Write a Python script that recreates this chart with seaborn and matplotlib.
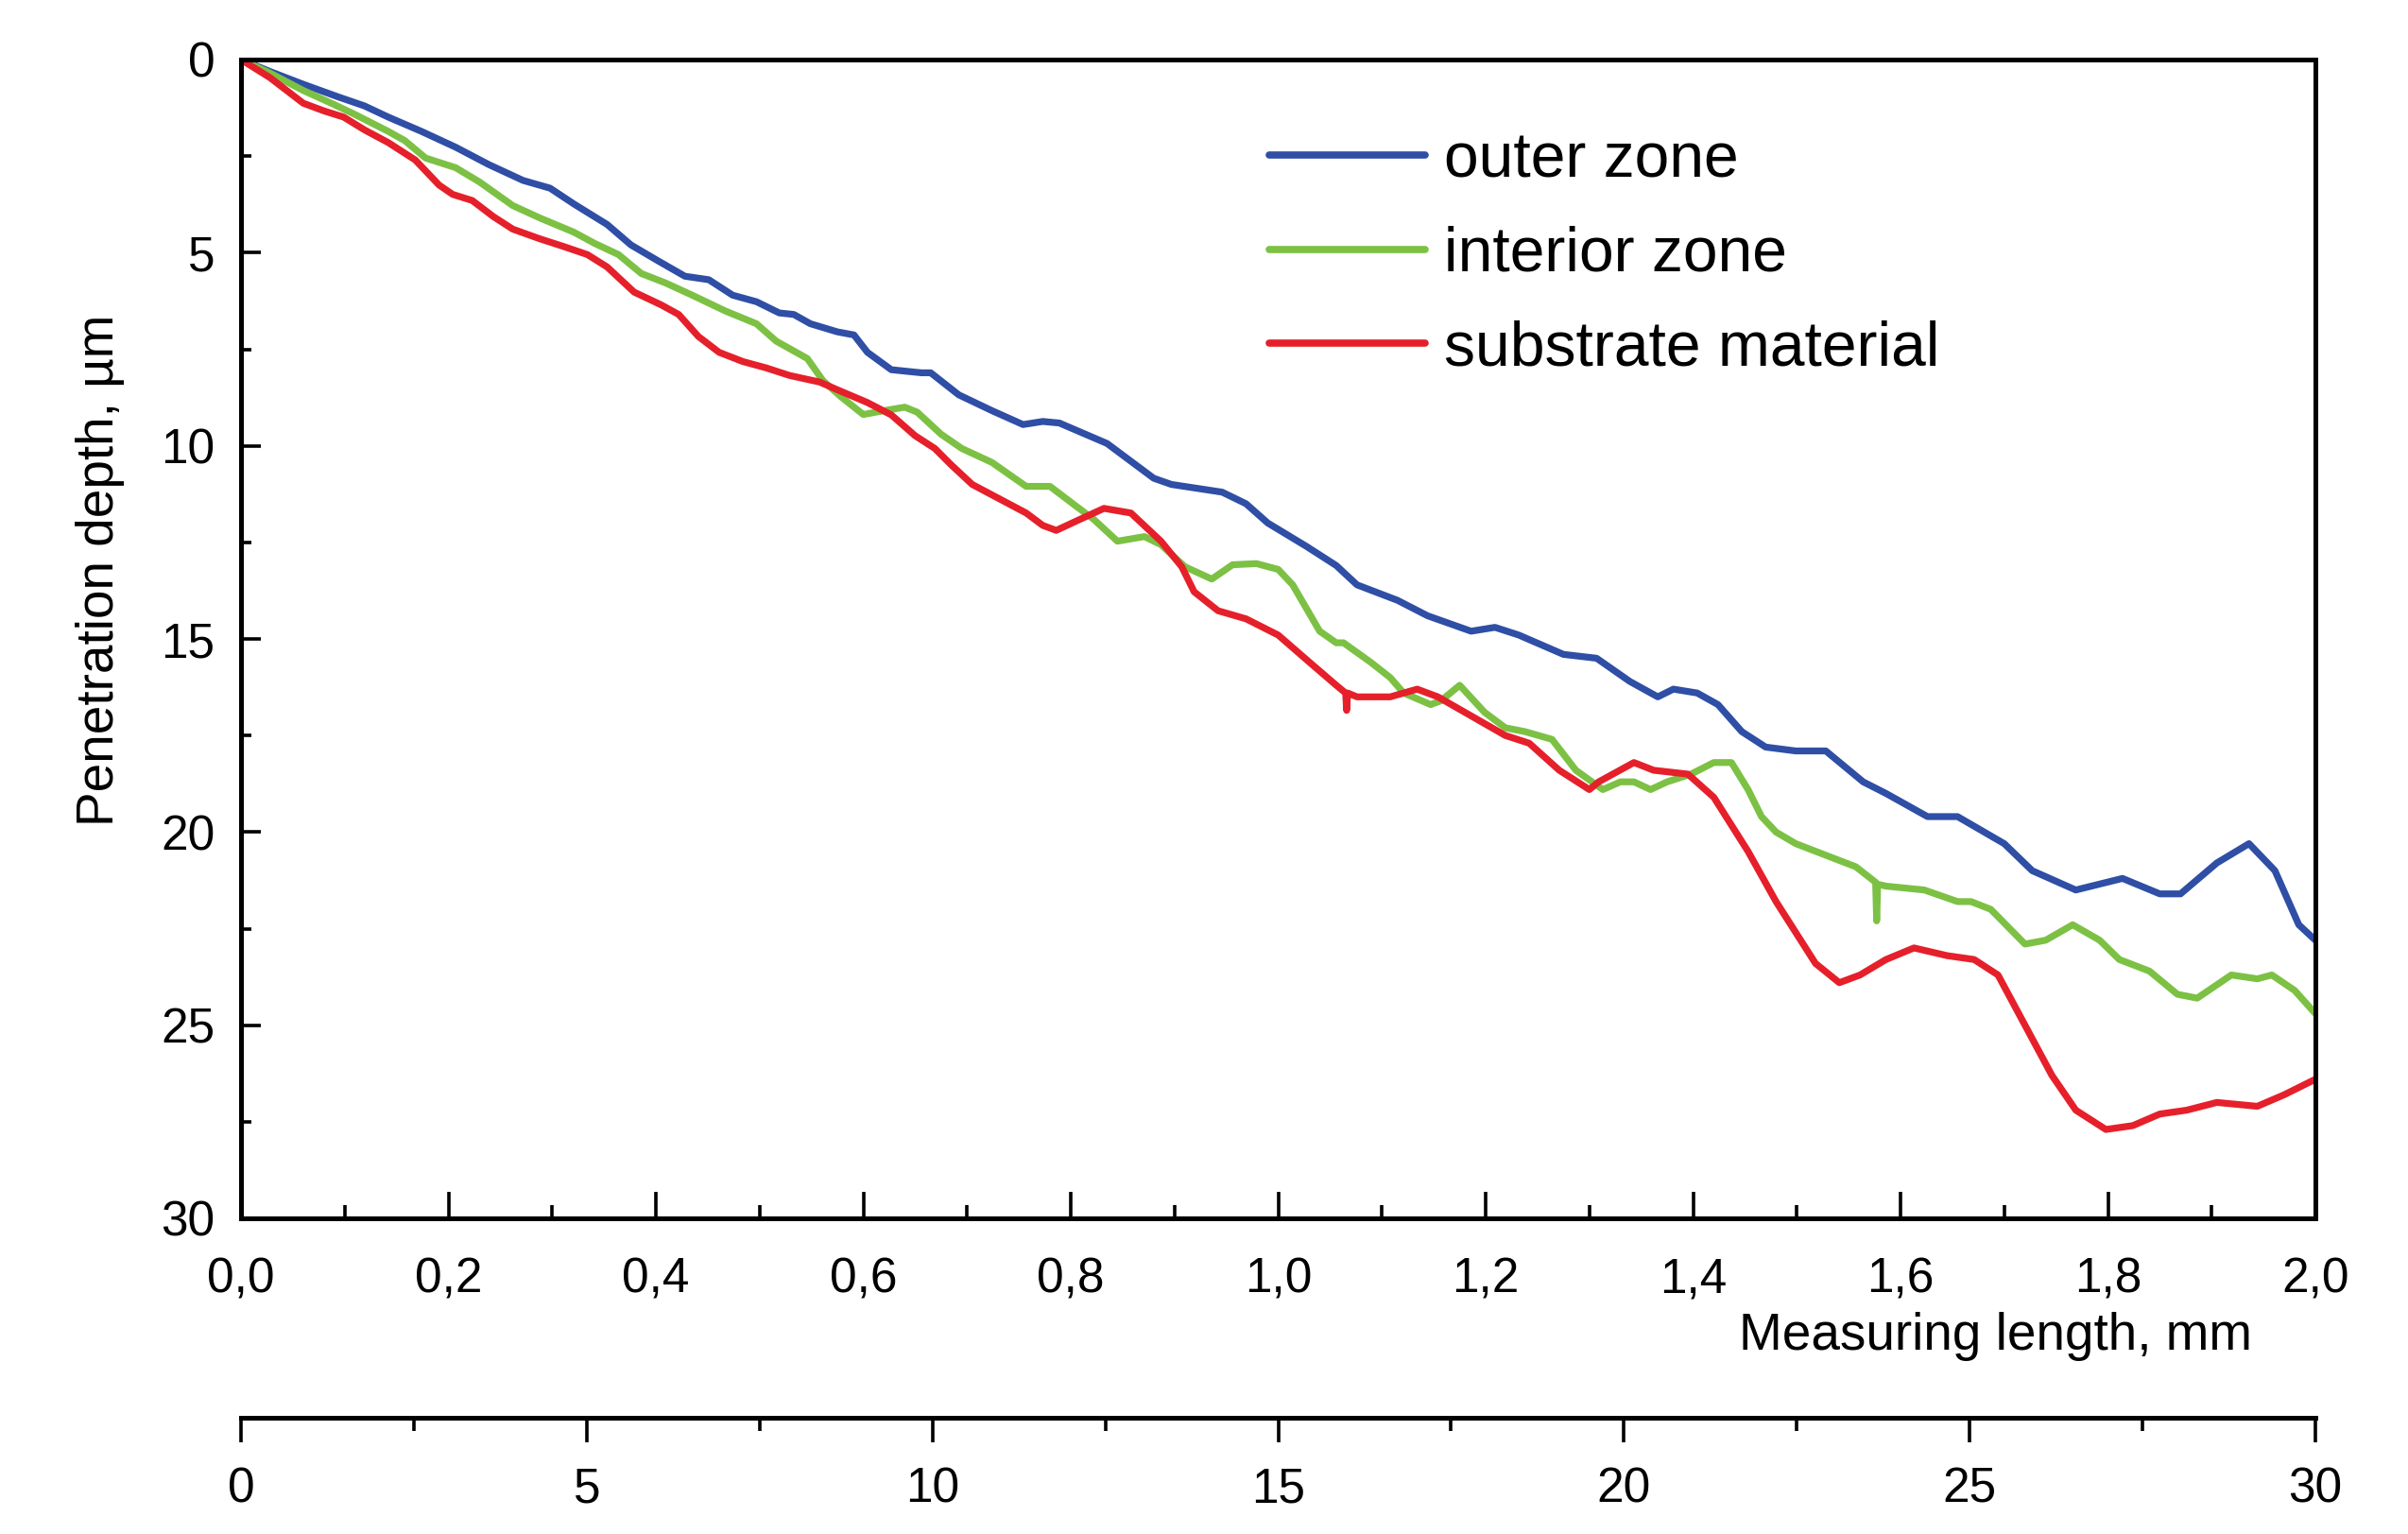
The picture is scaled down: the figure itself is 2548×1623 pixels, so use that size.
import numpy as np
import pandas as pd
import matplotlib
matplotlib.use("Agg")
import matplotlib.pyplot as plt
import seaborn as sns
from matplotlib.ticker import MultipleLocator, FuncFormatter

# ---------------- data ----------------
outer_x = [0.0, 0.028, 0.060, 0.093, 0.119, 0.142, 0.174, 0.207, 0.239, 0.272, 0.298, 0.321,
           0.353, 0.376, 0.402, 0.428, 0.451, 0.474, 0.497, 0.519, 0.533, 0.549, 0.575, 0.591,
           0.604, 0.627, 0.656, 0.665, 0.692, 0.724, 0.754, 0.773, 0.789, 0.835, 0.880, 0.897,
           0.946, 0.969, 0.990, 1.027, 1.056, 1.076, 1.115, 1.144, 1.186, 1.209, 1.232, 1.275,
           1.307, 1.339, 1.366, 1.381, 1.404, 1.424, 1.447, 1.470, 1.499, 1.528, 1.564, 1.586,
           1.626, 1.655, 1.700, 1.727, 1.769, 1.814, 1.850, 1.870, 1.905, 1.936, 1.961, 1.984, 2.0]
outer_y = [0.0, 0.31, 0.64, 0.96, 1.20, 1.49, 1.86, 2.27, 2.72, 3.13, 3.33, 3.74,
           4.27, 4.80, 5.21, 5.61, 5.70, 6.10, 6.27, 6.56, 6.60, 6.84, 7.05, 7.13,
           7.58, 8.03, 8.11, 8.11, 8.68, 9.09, 9.45, 9.37, 9.41, 9.94, 10.84, 11.00,
           11.20, 11.50, 12.00, 12.60, 13.10, 13.60, 14.00, 14.40, 14.80, 14.70, 14.90, 15.40,
           15.50, 16.10, 16.50, 16.30, 16.40, 16.70, 17.40, 17.80, 17.90, 17.90, 18.70, 19.00,
           19.60, 19.60, 20.30, 21.00, 21.50, 21.20, 21.60, 21.60, 20.80, 20.30, 21.00, 22.40, 22.80]

interior_x = [0.0, 0.028, 0.060, 0.087, 0.109, 0.142, 0.158, 0.178, 0.207, 0.230, 0.262, 0.288,
              0.321, 0.341, 0.364, 0.386, 0.409, 0.435, 0.467, 0.497, 0.516, 0.546, 0.561, 0.578,
              0.600, 0.620, 0.640, 0.652, 0.675, 0.695, 0.724, 0.757, 0.780, 0.806, 0.822, 0.845,
              0.871, 0.887, 0.910, 0.936, 0.956, 0.979, 1.000, 1.014, 1.040, 1.056, 1.063, 1.089,
              1.108, 1.121, 1.147, 1.157, 1.175, 1.199, 1.219, 1.238, 1.264, 1.287, 1.313, 1.330,
              1.343, 1.359, 1.375, 1.398, 1.420, 1.437, 1.453, 1.466, 1.480, 1.499, 1.557, 1.576,
              1.577, 1.578, 1.586, 1.623, 1.655, 1.668, 1.687, 1.720, 1.740, 1.766, 1.792, 1.811,
              1.840, 1.867, 1.886, 1.919, 1.944, 1.958, 1.980, 2.0]
interior_y = [0.0, 0.35, 0.80, 1.13, 1.41, 1.86, 2.10, 2.55, 2.80, 3.17, 3.78, 4.10,
              4.47, 4.76, 5.05, 5.54, 5.78, 6.10, 6.51, 6.84, 7.29, 7.74, 8.31, 8.72,
              9.19, 9.09, 9.00, 9.13, 9.70, 10.07, 10.43, 11.05, 11.05, 11.58, 11.90, 12.47,
              12.35, 12.56, 13.13, 13.45, 13.08, 13.05, 13.20, 13.60, 14.80, 15.10, 15.10, 15.60,
              16.00, 16.40, 16.70, 16.60, 16.20, 16.90, 17.30, 17.40, 17.60, 18.40, 18.90, 18.70,
              18.70, 18.90, 18.70, 18.50, 18.20, 18.20, 18.90, 19.60, 20.00, 20.30, 20.90, 21.30,
              22.30, 21.35, 21.40, 21.50, 21.80, 21.80, 22.00, 22.90, 22.80, 22.40, 22.80, 23.30,
              23.60, 24.20, 24.30, 23.70, 23.80, 23.70, 24.10, 24.70]

substrate_x = [0.0, 0.028, 0.060, 0.080, 0.099, 0.119, 0.142, 0.168, 0.191, 0.204, 0.223, 0.243,
               0.262, 0.288, 0.311, 0.334, 0.353, 0.379, 0.405, 0.422, 0.441, 0.461, 0.484, 0.506,
               0.529, 0.558, 0.575, 0.604, 0.627, 0.650, 0.669, 0.685, 0.705, 0.731, 0.757, 0.773,
               0.786, 0.806, 0.832, 0.858, 0.887, 0.907, 0.919, 0.942, 0.969, 1.000, 1.030, 1.056,
               1.065, 1.066, 1.067, 1.076, 1.108, 1.134, 1.154, 1.180, 1.219, 1.242, 1.271, 1.300,
               1.309, 1.343, 1.362, 1.395, 1.420, 1.453, 1.480, 1.499, 1.518, 1.541, 1.561, 1.586,
               1.613, 1.645, 1.671, 1.694, 1.720, 1.746, 1.769, 1.798, 1.824, 1.850, 1.876, 1.905,
               1.944, 1.970, 2.0]
substrate_y = [0.0, 0.47, 1.13, 1.33, 1.49, 1.82, 2.15, 2.60, 3.25, 3.49, 3.65, 4.06,
               4.39, 4.64, 4.84, 5.05, 5.37, 6.02, 6.35, 6.60, 7.17, 7.58, 7.82, 7.98,
               8.18, 8.35, 8.55, 8.88, 9.20, 9.74, 10.07, 10.50, 11.00, 11.37, 11.74, 12.06,
               12.19, 11.94, 11.62, 11.74, 12.47, 13.13, 13.78, 14.27, 14.48, 14.90, 15.60, 16.20,
               16.40, 16.85, 16.40, 16.50, 16.50, 16.30, 16.50, 16.90, 17.50, 17.70, 18.40, 18.90,
               18.70, 18.20, 18.40, 18.50, 19.10, 20.50, 21.80, 22.60, 23.40, 23.90, 23.70, 23.30,
               23.00, 23.20, 23.30, 23.70, 25.00, 26.30, 27.20, 27.70, 27.60, 27.30, 27.20, 27.00,
               27.10, 26.80, 26.40]

series_names = ["outer zone", "interior zone", "substrate material"]
series_colors = ["#2F4EA5", "#7CC144", "#E5202B"]

x_ticks = [0.0, 0.2, 0.4, 0.6, 0.8, 1.0, 1.2, 1.4, 1.6, 1.8, 2.0]
y_ticks = [0, 5, 10, 15, 20, 25, 30]
sec_ticks = [0, 5, 10, 15, 20, 25, 30]

df = pd.concat([
    pd.DataFrame({"x": outer_x, "y": outer_y, "series": series_names[0]}),
    pd.DataFrame({"x": interior_x, "y": interior_y, "series": series_names[1]}),
    pd.DataFrame({"x": substrate_x, "y": substrate_y, "series": series_names[2]}),
], ignore_index=True)

# ---------------- style ----------------
sns.set_style("ticks")
plt.rcParams['font.family'] = ['Liberation Sans', 'DejaVu Sans']
for key in ["text.color", "axes.labelcolor", "xtick.color", "ytick.color", "axes.edgecolor"]:
    plt.rcParams[key] = "black"

W, H = 2548, 1623
fig = plt.figure(figsize=(W / 100, H / 100), dpi=100)
L, R, T, B = 255, 2450, 63, 1289
ax = fig.add_axes([L / W, 1 - B / H, (R - L) / W, (B - T) / H])

sns.lineplot(data=df, x="x", y="y", hue="series", hue_order=series_names,
             palette=dict(zip(series_names, series_colors)), estimator=None,
             sort=False, linewidth=5.2, ax=ax)
for ln in ax.lines:
    ln.set_linewidth(5.2)
    ln.set_solid_joinstyle("round")
    ln.set_solid_capstyle("round")

ax.set_xlim(0, 2.0)
ax.set_ylim(30, 0)
ax.set_xticks(x_ticks)
ax.set_yticks(y_ticks)
ax.xaxis.set_minor_locator(MultipleLocator(0.1))
ax.yaxis.set_minor_locator(MultipleLocator(2.5))
ax.xaxis.set_major_formatter(FuncFormatter(lambda v, p: f"{v:.1f}".replace('.', ',')))
ax.yaxis.set_major_formatter(FuncFormatter(lambda v, p: f"{v:.0f}"))

for s in ax.spines.values():
    s.set_linewidth(3.6)
    s.set_color("black")

ax.tick_params(axis="x", which="major", direction="in", length=20, width=2.6,
               labelsize=37, pad=29, top=False, colors="black")
ax.tick_params(axis="x", which="minor", direction="in", length=10, width=2.6, top=False)
ax.tick_params(axis="y", which="major", direction="in", length=15, width=2.6,
               labelsize=37, pad=20, right=False, colors="black")
ax.tick_params(axis="y", which="minor", direction="in", length=8, width=2.6, right=False)

ax.set_xlabel("Measuring length, mm", fontsize=39.5, color="black")
ax.xaxis.set_label_coords(0.8456, -0.102)
ax.xaxis.label.set_verticalalignment("center")
ax.set_ylabel("Penetration depth, \u00b5m", fontsize=39.5, color="black")
ax.yaxis.set_label_coords(-0.0679, 0.5595)
ax.yaxis.label.set_verticalalignment("center")

# secondary length scale below
sec = ax.secondary_xaxis(-(1500 - B) / (B - T), functions=(lambda v: v * 15, lambda v: v / 15))
sec.set_xticks(sec_ticks)
sec.xaxis.set_minor_locator(MultipleLocator(2.5))
sec.spines["bottom"].set_linewidth(3.6)
sec.spines["bottom"].set_color("black")
sec.tick_params(axis="x", which="major", direction="out", length=19, width=2.6,
                labelsize=37, pad=18, colors="black")
sec.tick_params(axis="x", which="minor", direction="out", length=10, width=2.6, colors="black")

# legend
handles, labels = ax.get_legend_handles_labels()
leg = ax.legend(handles=handles, labels=labels, loc="upper left",
                bbox_to_anchor=(1343 / W, 1 - 139 / H), bbox_transform=fig.transFigure,
                frameon=False, fontsize=47.5, handlelength=2.5, handletextpad=0.3,
                labelspacing=0.57, borderpad=0, borderaxespad=0)
for lh in leg.get_lines():
    lh.set_linewidth(5.5)
for t in leg.get_texts():
    t.set_color("black")

fig.savefig("out.png", dpi=100)
